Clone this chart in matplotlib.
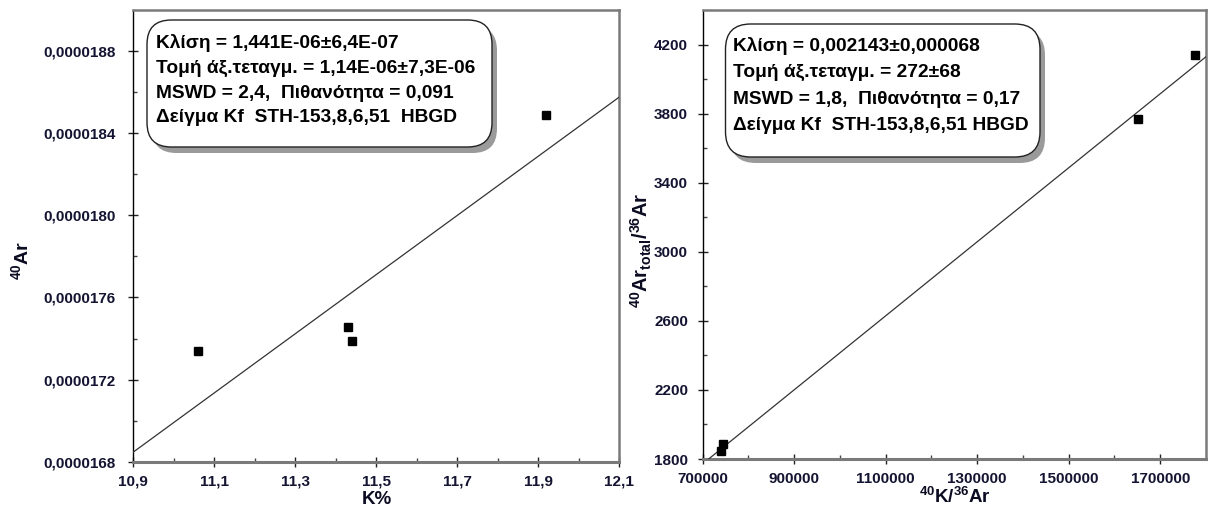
import matplotlib
matplotlib.use("Agg")
import matplotlib.pyplot as plt
import numpy as np
from matplotlib.patches import FancyBboxPatch
from matplotlib.ticker import FixedLocator, FuncFormatter

plt.rcParams['font.family'] = ['Liberation Sans', 'DejaVu Sans']
plt.rcParams['mathtext.fontset'] = 'custom'
plt.rcParams['mathtext.rm'] = 'Liberation Sans:bold'
plt.rcParams['mathtext.bf'] = 'Liberation Sans:bold'
plt.rcParams['mathtext.it'] = 'Liberation Sans:bold'

# ---- data: left panel (K% vs 40Ar) ----
k_percent = [11.06, 11.43, 11.44, 11.92]
ar40 = [1.7338e-5, 1.7458e-5, 1.7386e-5, 1.8490e-5]
left_slope = 1.441e-6
left_intercept = 1.14e-6
left_xticks = [10.9, 11.1, 11.3, 11.5, 11.7, 11.9, 12.1]
left_xminor = [11.0, 11.2, 11.4, 11.6, 11.8, 12.0]
left_yticks = [1.68e-5, 1.72e-5, 1.76e-5, 1.80e-5, 1.84e-5, 1.88e-5]
left_yminor = [1.70e-5, 1.74e-5, 1.78e-5, 1.82e-5, 1.86e-5]
left_lines = ["Κλίση = 1,441E-06±6,4E-07",
              "Τομή άξ.τεταγμ. = 1,14E-06±7,3E-06",
              "MSWD = 2,4,  Πιθανότητα = 0,091",
              "Δείγμα Kf  STH-153,8,6,51  HBGD"]

# ---- data: right panel (40K/36Ar vs 40Ar/36Ar) ----
k40_ar36 = [741000, 745000, 1652000, 1777000]
ar40_ar36 = [1845, 1886, 3771, 4137]
right_slope = 0.002143
right_intercept = 272
right_xticks = [700000, 900000, 1100000, 1300000, 1500000, 1700000]
right_xminor = [800000, 1000000, 1200000, 1400000, 1600000]
right_yticks = [1800, 2200, 2600, 3000, 3400, 3800, 4200]
right_yminor = [2000, 2400, 2800, 3200, 3600, 4000]
right_lines = ["Κλίση = 0,002143±0,000068",
               "Τομή άξ.τεταγμ. = 272±68",
               "MSWD = 1,8,  Πιθανότητα = 0,17",
               "Δείγμα Kf  STH-153,8,6,51 HBGD"]

W, H = 1208, 511
fig = plt.figure(figsize=(W / 100, H / 100), dpi=100)

def frac(x0, y0, x1, y1):
    return [x0 / W, 1 - y1 / H, (x1 - x0) / W, (y1 - y0) / H]

tick_color = '#141432'
label_color = '#0b0b22'

ax1 = fig.add_axes(frac(133.3, 10, 619.3, 461.7))
ax2 = fig.add_axes(frac(702.7, 10, 1206, 459))

def style(ax, ypad):
    for s in ['top', 'right', 'bottom']:
        ax.spines[s].set_color('#7a7a7a')
        ax.spines[s].set_linewidth(1.8)
    ax.spines['bottom'].set_linewidth(2.2)
    ax.spines['left'].set_color('black')
    ax.spines['left'].set_linewidth(1.0)
    ax.tick_params(which='major', direction='inout', length=7, width=1.0, color='#222222',
                   labelsize=11, labelcolor=tick_color)
    ax.tick_params(which='minor', direction='in', length=3, width=1.0, color='#444444')
    ax.tick_params(axis='y', which='major', pad=ypad)
    ax.tick_params(axis='x', which='major', pad=6)
    for lab in ax.get_xticklabels() + ax.get_yticklabels():
        lab.set_fontweight('bold')

def comma_fmt(decimals):
    return FuncFormatter(lambda v, p: f"{v:.{decimals}f}".replace('.', ','))

# left panel
ax1.plot(k_percent, ar40, linestyle='none', marker='s', ms=5.5, color='black', zorder=5)
xl = np.array([left_xticks[0], left_xticks[-1]])
ax1.plot(xl, left_slope * xl + left_intercept, color='#333333', lw=0.9, zorder=4)
ax1.set_xlim(10.9, 12.1)
ax1.set_ylim(1.68e-5, 1.90e-5)
ax1.xaxis.set_major_locator(FixedLocator(left_xticks))
ax1.xaxis.set_minor_locator(FixedLocator(left_xminor))
ax1.yaxis.set_major_locator(FixedLocator(left_yticks))
ax1.yaxis.set_minor_locator(FixedLocator(left_yminor))
ax1.xaxis.set_major_formatter(comma_fmt(1))
ax1.yaxis.set_major_formatter(comma_fmt(7))
style(ax1, 9)

# right panel
ax2.plot(k40_ar36, ar40_ar36, linestyle='none', marker='s', ms=5.5, color='black', zorder=5)
xr = np.array([700000, 1800000])
ax2.plot(xr, right_slope * xr + right_intercept, color='#333333', lw=0.9, zorder=4)
ax2.set_xlim(700000, 1800000)
ax2.set_ylim(1800, 4400)
ax2.xaxis.set_major_locator(FixedLocator(right_xticks))
ax2.xaxis.set_minor_locator(FixedLocator(right_xminor))
ax2.yaxis.set_major_locator(FixedLocator(right_yticks))
ax2.yaxis.set_minor_locator(FixedLocator(right_yminor))
ax2.xaxis.set_major_formatter(FuncFormatter(lambda v, p: f"{v:.0f}"))
ax2.yaxis.set_major_formatter(FuncFormatter(lambda v, p: f"{v:.0f}"))
style(ax2, 7)

# axis labels (figure pixel positions)
def ftext(px, py, s, **kw):
    fig.text(px / W, 1 - py / H, s, **kw)

ftext(377, 500, "K%", ha='center', va='center', fontsize=13.5, fontweight='bold', color=label_color)
ftext(955, 497, r"$^{40}$K/$^{36}$Ar", ha='center', va='center', fontsize=13.5,
      fontweight='bold', color=label_color)
ftext(21, 260, r"$^{40}$Ar", ha='center', va='center', fontsize=14, rotation=90,
      fontweight='bold', color=label_color)
ftext(641, 250, r"$^{40}$Ar$_{total}$/$^{36}$Ar", ha='center', va='center', fontsize=14.5,
      rotation=90, fontweight='bold', color=label_color)

# annotation boxes
def box(ax, ax_px, bx, lines, text_x, text_y0, dy, fs):
    x0a, y0a, x1a, y1a = ax_px
    bx0, by0, bx1, by1 = bx
    wa, ha = x1a - x0a, y1a - y0a
    fx0 = (bx0 - x0a) / wa
    fx1 = (bx1 - x0a) / wa
    fy1 = 1 - (by0 - y0a) / ha
    fy0 = 1 - (by1 - y0a) / ha
    sx, sy = 5 / wa, 6 / ha
    sh = FancyBboxPatch((fx0 + sx, fy0 - sy), fx1 - fx0, fy1 - fy0,
                        boxstyle="round,pad=0,rounding_size=0.05",
                        transform=ax.transAxes, facecolor='#9a9a9a', edgecolor='none',
                        zorder=6, mutation_aspect=wa / ha)
    ax.add_patch(sh)
    b = FancyBboxPatch((fx0, fy0), fx1 - fx0, fy1 - fy0,
                       boxstyle="round,pad=0,rounding_size=0.05",
                       transform=ax.transAxes, facecolor='white', edgecolor='#222222',
                       lw=1.0, zorder=7, mutation_aspect=wa / ha)
    ax.add_patch(b)
    for i, s in enumerate(lines):
        ty = text_y0 + i * dy
        ax.text((text_x - x0a) / wa, 1 - (ty - y0a) / ha, s, transform=ax.transAxes,
                ha='left', va='center', fontsize=fs, fontweight='bold', color='black', zorder=8)

box(ax1, (133.3, 10, 619.3, 461.7), (147, 20, 492, 147), left_lines, 156, 43, 25, 13.8)
box(ax2, (702.7, 10, 1206, 459), (725.5, 24, 1040, 157), right_lines, 733, 46, 26.5, 13.8)

fig.savefig("out.png", dpi=100, facecolor='white')
